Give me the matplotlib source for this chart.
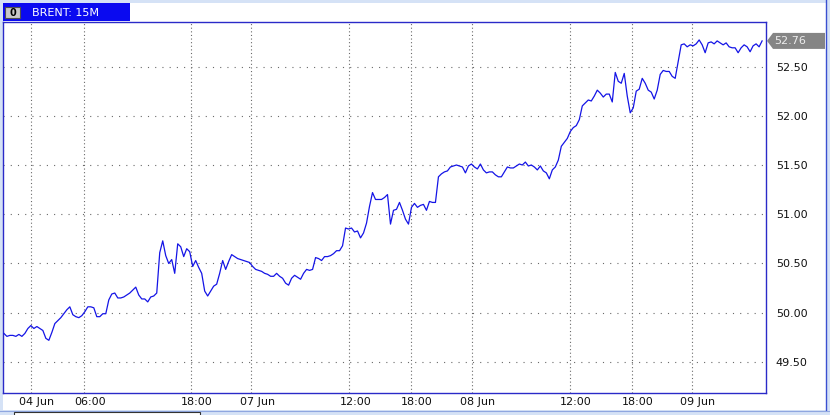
import matplotlib
matplotlib.use("Agg")
import matplotlib.pyplot as plt
from matplotlib.patches import Rectangle, Polygon
import matplotlib.transforms as mtransforms

# ---------------- data (15M bars) ----------------
prices = [
    49.79, 49.76, 49.77, 49.77, 49.76, 49.78, 49.76, 49.79, 49.84, 49.87,
    49.84, 49.86, 49.84, 49.82, 49.74, 49.72, 49.80, 49.89, 49.92, 49.95,
    49.99, 50.03, 50.06, 49.98, 49.96, 49.95, 49.97, 50.01, 50.06, 50.06,
    50.05, 49.96, 49.96, 49.99, 49.99, 50.13, 50.19, 50.20, 50.15, 50.15,
    50.16, 50.18, 50.20, 50.23, 50.26, 50.18, 50.14, 50.14, 50.11, 50.16,
    50.17, 50.20, 50.61, 50.73, 50.58, 50.50, 50.54, 50.40, 50.70, 50.67,
    50.57, 50.65, 50.62, 50.47, 50.53, 50.46, 50.40, 50.22, 50.17, 50.22,
    50.27, 50.29, 50.40, 50.53, 50.44, 50.52, 50.59, 50.57, 50.55, 50.54,
    50.53, 50.52, 50.51, 50.47, 50.44, 50.43, 50.42, 50.40, 50.39, 50.37,
    50.37, 50.40, 50.37, 50.35, 50.30, 50.28, 50.35, 50.38, 50.36, 50.34,
    50.40, 50.44, 50.43, 50.44, 50.56, 50.55, 50.53, 50.57, 50.57, 50.58,
    50.60, 50.63, 50.63, 50.68, 50.86, 50.85, 50.86, 50.82, 50.83, 50.76,
    50.81, 50.91, 51.08, 51.22, 51.15, 51.15, 51.15, 51.17, 51.20, 50.90,
    51.04, 51.05, 51.12, 51.04, 50.95, 50.90, 51.07, 51.11, 51.07, 51.09,
    51.10, 51.04, 51.13, 51.12, 51.12, 51.38, 51.41, 51.43, 51.44, 51.48,
    51.49, 51.50, 51.49, 51.48, 51.42, 51.49, 51.51, 51.48, 51.46, 51.51,
    51.45, 51.42, 51.43, 51.43, 51.40, 51.38, 51.38, 51.43, 51.48, 51.47,
    51.47, 51.49, 51.51, 51.50, 51.53, 51.49, 51.50, 51.48, 51.45, 51.49,
    51.44, 51.42, 51.36, 51.45, 51.48, 51.55, 51.69, 51.73, 51.77, 51.84,
    51.88, 51.90, 51.96, 52.10, 52.13, 52.16, 52.15, 52.20, 52.26, 52.23,
    52.19, 52.22, 52.22, 52.14, 52.44, 52.35, 52.33, 52.43, 52.20, 52.03,
    52.08, 52.25, 52.27, 52.38, 52.33, 52.26, 52.24, 52.17, 52.26, 52.42,
    52.46, 52.45, 52.45, 52.40, 52.38, 52.55, 52.72, 52.73, 52.70, 52.72,
    52.71, 52.73, 52.77, 52.72, 52.64, 52.74, 52.75, 52.73, 52.76, 52.74,
    52.72, 52.74, 52.70, 52.69, 52.69, 52.64, 52.69, 52.72, 52.70, 52.65,
    52.71, 52.73, 52.70, 52.76,
]
x_tick_pos = [9, 26.8, 62.3, 82.6, 115.3, 135.7, 156.2, 188.8, 209.6, 229.6]
x_tick_labels = ["04 Jun", "06:00", "18:00", "07 Jun", "12:00", "18:00",
                 "08 Jun", "12:00", "18:00", "09 Jun"]
y_ticks = [49.50, 50.00, 50.50, 51.00, 51.50, 52.00, 52.50]
title = "BRENT: 15M"

# ---------------- figure ----------------
W, H = 830, 415
plt.rcParams['lines.scale_dashes'] = False
fig = plt.figure(figsize=(W / 100, H / 100), dpi=100)
fig.patch.set_facecolor('#D5E2F6')

def fx(x):
    return x / W

def fy(y):
    return 1 - y / H

# white inner panel
fig.add_artist(Rectangle((fx(3), fy(410)), fx(823), 407 / H,
                         transform=fig.transFigure, facecolor='white',
                         edgecolor='none', zorder=-5))
# right blue frame line
fig.add_artist(plt.Line2D([fx(826), fx(826)], [fy(0), fy(410)],
                          transform=fig.transFigure, color='#3A4FD0', lw=1.0,
                          zorder=-4))
# bottom line under labels
fig.add_artist(plt.Line2D([fx(0), fx(830)], [fy(410.5), fy(410.5)],
                          transform=fig.transFigure, color='#8FA6E0', lw=0.8,
                          zorder=-4))
# scroll box at bottom
fig.add_artist(Rectangle((fx(14), fy(418)), fx(186), 6 / H,
                         transform=fig.transFigure, facecolor='white',
                         edgecolor='#333333', lw=0.8, zorder=-3))

# title tab
fig.add_artist(Rectangle((fx(3), fy(21)), fx(127), 18 / H,
                         transform=fig.transFigure, facecolor='#0A0AF0',
                         edgecolor='none', zorder=10))
fig.add_artist(Rectangle((fx(5), fy(18)), fx(15), 11 / H,
                         transform=fig.transFigure, facecolor='#C8C8C8',
                         edgecolor='#505050', lw=0.8, zorder=11))
fig.text(fx(12.5), fy(12.5), "0", color='black', fontsize=7, ha='center',
         va='center', fontweight='bold', zorder=12)
fig.text(fx(32), fy(12.5), title, color='white', fontsize=8, ha='left',
         va='center', zorder=12)

# ---------------- axes ----------------
ax = fig.add_axes([fx(3), fy(393), (766 - 3) / W, (393 - 22) / H])
ax.set_zorder(5)
ax.set_facecolor('white')
xs = list(range(len(prices)))
ax.plot(xs, prices, color='#1414E6', lw=0.9, zorder=3)

ax.set_xlim(-0.3, 254.3)
ax.set_ylim(49.185, 52.952)

ax.set_xticks(x_tick_pos)
ax.set_xticklabels(x_tick_labels)
ax.set_yticks(y_ticks)
ax.set_yticklabels([f"{v:.2f}" for v in y_ticks])
ax.yaxis.tick_right()
ax.tick_params(axis='both', length=0, labelsize=8, labelcolor='#111111')
ax.tick_params(axis='y', pad=7)
ax.tick_params(axis='x', pad=3)

offset = mtransforms.ScaledTranslation(6 / 100, 0, fig.dpi_scale_trans)
for lab in ax.get_xticklabels():
    lab.set_transform(lab.get_transform() + offset)

for v in y_ticks:
    ax.axhline(v, color='#6A6A6A', lw=0.8, ls=(0, (0.8, 4.4)), zorder=1)
for p in x_tick_pos:
    ax.axvline(p, color='#6A6A6A', lw=0.8, ls=(0, (0.8, 1.8)), zorder=1)

for s in ax.spines.values():
    s.set_color('#2A2AC8')
    s.set_linewidth(1.0)

# last price tag (gray flag pointing at the axis)
last = prices[-1]
half = 8 / 98.5 * (52.5 - 49.5) / 3.0  # ~8 px in data units
tag_tr = mtransforms.blended_transform_factory(fig.transFigure, ax.transData)
ax.add_patch(Polygon([(fx(767), last), (fx(773), last + half),
                      (fx(825), last + half), (fx(825), last - half),
                      (fx(773), last - half)], closed=True,
                     transform=tag_tr, facecolor='#858585', edgecolor='none',
                     clip_on=False, zorder=6))
ax.text(fx(774), last, f"{last:.2f}", transform=tag_tr, ha='left',
        va='center', fontsize=8, color='#EDEDED', clip_on=False, zorder=7)

fig.savefig("out.png", dpi=100, facecolor=fig.get_facecolor())
